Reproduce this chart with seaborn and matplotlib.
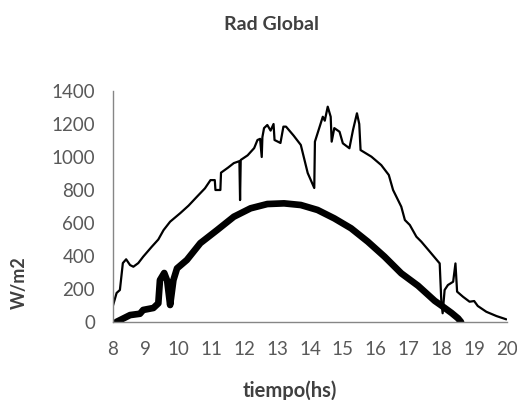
import numpy as np
import pandas as pd
import matplotlib
matplotlib.use("Agg")
import matplotlib.pyplot as plt
import seaborn as sns

# Radiacion global medida (linea fina)
hora_global = [8.00, 8.11, 8.21, 8.30, 8.40, 8.52, 8.62, 8.77, 8.92, 9.18, 9.38, 9.54, 9.74,
               10.05, 10.30, 10.56, 10.80, 10.97, 11.10, 11.12, 11.27, 11.29, 11.50, 11.68,
               11.85, 11.87, 11.89, 12.10, 12.30, 12.40, 12.48, 12.53, 12.55, 12.60, 12.70,
               12.80, 12.89, 12.92, 13.10, 13.19, 13.27, 13.50, 13.72, 13.93, 14.13, 14.15,
               14.39, 14.45, 14.54, 14.63, 14.66, 14.74, 14.90, 15.00, 15.20, 15.31, 15.43,
               15.50, 15.54, 15.87, 16.17, 16.40, 16.53, 16.78, 16.89, 17.04, 17.24, 17.39,
               17.65, 17.95, 18.00, 18.04, 18.10, 18.20, 18.36, 18.43, 18.48, 18.66, 18.86,
               19.00, 19.11, 19.37, 19.68, 19.98]
rad_global = [100, 176, 194, 357, 380, 345, 335, 357, 396, 456, 500, 557, 608,
              660, 705, 760, 810, 860, 860, 800, 800, 905, 935, 963,
              975, 739, 982, 1010, 1054, 1103, 1110, 1000, 1120, 1175, 1194,
              1160, 1200, 1103, 1085, 1184, 1184, 1130, 1073, 903, 812, 1093,
              1244, 1220, 1305, 1244, 1093, 1175, 1153, 1083, 1053, 1164, 1265,
              1200, 1042, 1002, 951, 891, 800, 699, 618, 588, 517, 487,
              426, 355, 123, 53, 194, 224, 244, 355, 184, 153, 123,
              127, 97, 62, 36, 16]

# Curva gruesa
hora_curva = [8.10, 8.30, 8.52, 8.82, 8.92, 9.23, 9.38, 9.43, 9.56, 9.65, 9.74, 9.84, 9.95,
              10.25, 10.66, 11.17, 11.68, 12.19, 12.70, 13.21, 13.72, 14.23, 14.74, 15.25,
              15.76, 16.27, 16.78, 17.29, 17.80, 18.00, 18.31, 18.51, 18.60]
rad_curva = [0, 20, 42, 50, 73, 85, 113, 254, 297, 250, 103, 254, 325,
             376, 478, 557, 638, 689, 715, 719, 709, 679, 628, 568,
             487, 396, 295, 220, 128, 100, 55, 22, 0]

sns.set_style("white")
plt.rcParams['font.family'] = ['Lato', 'DejaVu Sans']

fig = plt.figure(figsize=(5.17, 4.0), dpi=100)
ax = fig.add_axes([113/517, 78/400, 394/517, 231/400])

df_g = pd.DataFrame({"hora": hora_global, "rad": rad_global})
df_c = pd.DataFrame({"hora": hora_curva, "rad": rad_curva})
sns.lineplot(data=df_g, x="hora", y="rad", ax=ax, color="black", lw=1.6,
             sort=False, estimator=None)
sns.lineplot(data=df_c, x="hora", y="rad", ax=ax, color="black", lw=4.8,
             sort=False, estimator=None)

ax.set_xlim(8, 20)
ax.set_ylim(0, 1400)
ax.set_xticks(range(8, 21))
ax.set_yticks(range(0, 1401, 200))
ax.tick_params(length=0, labelsize=13.5, labelcolor="#595959")
ax.tick_params(axis="y", pad=13)
ax.tick_params(axis="x", pad=14)
ax.set_xlabel("")
ax.set_ylabel("")
for s in ["top", "right"]:
    ax.spines[s].set_visible(False)
for s in ["left", "bottom"]:
    ax.spines[s].set_color("#868686")
    ax.spines[s].set_linewidth(1)

fig.text(272/517, 1 - 25/400, "Rad Global", ha="center", va="center",
         fontsize=14, fontweight="bold", color="#404040")
fig.text(290/517, 1 - 391/400, "tiempo(hs)", ha="center", va="center",
         fontsize=14.5, fontweight="bold", color="#404040")
fig.text(19/517, 1 - 283/400, "W/m2", ha="center", va="center", rotation=90,
         fontsize=13, fontweight="bold", color="#404040")

fig.savefig("out.png", dpi=100)
